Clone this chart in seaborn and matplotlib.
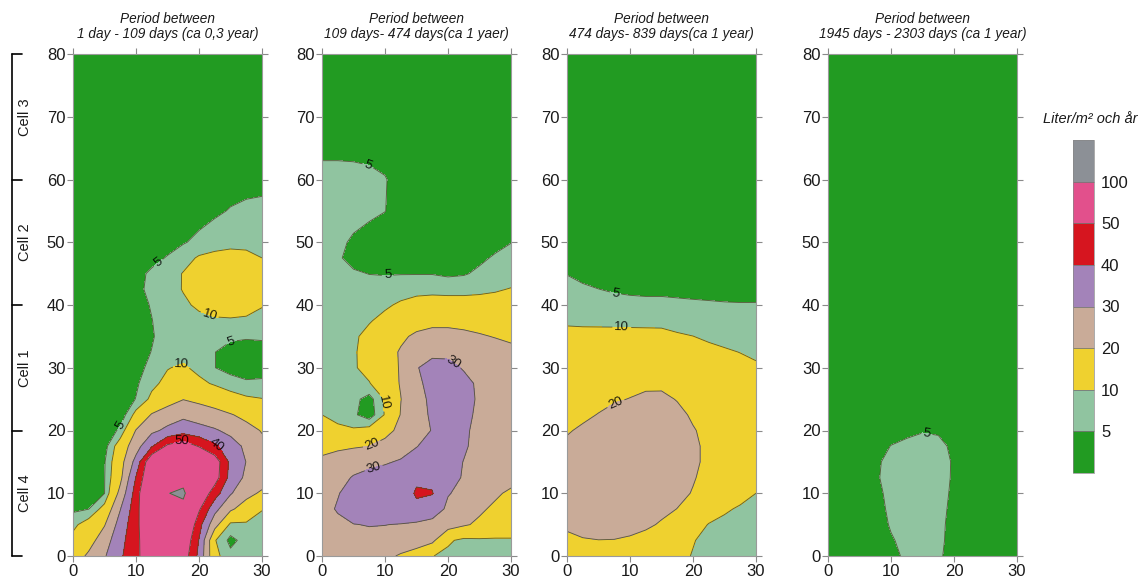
import numpy as np
import seaborn as sns
import matplotlib.pyplot as plt
from matplotlib.colors import ListedColormap, BoundaryNorm
from matplotlib.cm import ScalarMappable
from matplotlib.lines import Line2D
from matplotlib import transforms

# 1. data (Liter/m2 och år)
levels = [0, 5, 10, 20, 30, 40, 50, 100, 200]
tick_levels = [5, 10, 20, 30, 40, 50, 100]
band_colors = ["#229b22", "#90c4a0", "#efd12f", "#c9ab98",
               "#a383b9", "#d6151f", "#e2508c", "#8c9096"]

periods = ["1 day - 109 days (ca 0,3 year)",
           "109 days- 474 days(ca 1 yaer)",
           "474 days- 839 days(ca 1 year)",
           "1945 days - 2303 days (ca 1 year)"]

cell_names = ["Cell 4", "Cell 1", "Cell 2", "Cell 3"]
cell_bounds = [0, 20, 40, 60, 80]

x_cols = [0, 2.5, 5, 7.5, 10, 12.5, 15, 17.5, 20, 22.5, 25, 27.5, 30]

p1_rows = [0, 2.5, 5, 7.5, 10, 12.5, 15, 17.5, 20, 22.5, 25, 27.5, 30, 32.5,
           35, 37.5, 40, 42.5, 45, 47.5, 50, 55, 60, 70, 80]
p1_values = [
    [14.5, 21.8, 29.1, 38.5, 47.2, 58.6, 68.7, 56.1, 37.5, 11.8, 6.5, 7.5, 8],
    [12, 16, 25.4, 36.8, 46.9, 60.2, 75, 59.6, 39.5, 10.5, 3.5, 7, 7.8],
    [8.5, 13.2, 19.4, 34.1, 46.6, 63.7, 83.8, 66.1, 43.5, 23.6, 8.5, 9, 8.5],
    [4, 4.9, 12.5, 29.6, 45.9, 66.3, 90.2, 90, 51.5, 33.1, 21.6, 15.4, 10.2],
    [2, 3, 4.9, 22.9, 44.4, 68.4, 99, 106, 60, 44.5, 30.9, 23, 18.5],
    [2, 3, 4.8, 17.6, 40.5, 62.6, 80, 88, 70, 55, 36.5, 28, 25],
    [2, 3, 4.6, 16.1, 33.3, 60, 72, 74, 68, 56, 37.6, 29.8, 25],
    [2, 3, 3, 13.8, 25.9, 39, 52, 57, 49.2, 41.7, 34.4, 28, 22],
    [1.5, 1.5, 1, 6.2, 20.4, 27.9, 32.2, 35.6, 33.6, 31.1, 27.4, 22.9, 19.5],
    [1.5, 1.5, 1.5, 1.5, 12.1, 20.7, 24.9, 27.8, 25.2, 22.9, 20.6, 17.7, 14.6],
    [1.5, 1.5, 1.5, 1.5, 5.2, 11.5, 15.7, 19.7, 17.8, 15.9, 12.5, 11, 10.2],
    [1.5, 1.5, 1.5, 1.5, 4.2, 8.5, 11.8, 14, 11.6, 9.2, 7.5, 5.8, 6],
    [1.5, 1.5, 1.5, 1.5, 3.5, 6.25, 9.7, 11, 8.2, 5.1, 3, 2.5, 2.8],
    [1.5, 1.5, 1.5, 1.5, 3.5, 5.1, 7, 7.5, 6.5, 5.1, 3, 2.5, 2.8],
    [1.5, 1.5, 1.5, 1.5, 3.2, 4.7, 6.5, 7.5, 7.5, 7, 6, 5.6, 5.8],
    [1.5, 1.5, 1.5, 1.5, 3.2, 4.9, 6.8, 7.8, 8.5, 9.2, 9.4, 9.2, 9],
    [1.5, 1.5, 1.5, 1.5, 3.5, 5.3, 7, 9, 11, 12.5, 12.8, 12, 10.2],
    [1.5, 1.5, 1.5, 1.5, 4, 6, 7.8, 10.3, 12.5, 14, 14.5, 14, 12.5],
    [1.5, 1.5, 1.5, 1.5, 3.8, 5.7, 7.5, 10.3, 12.5, 14, 14.5, 14, 12.5],
    [1.5, 1.5, 1.5, 1.5, 2.5, 3.8, 5.3, 7.8, 10.7, 11.8, 12, 11.5, 10],
    [1.5, 1.5, 1.5, 1.5, 1.5, 2.5, 3.5, 4.6, 6.2, 7.5, 8.5, 8.5, 8],
    [1.5, 1.5, 1.5, 1.5, 1.5, 2, 2.5, 2.8, 3, 4.2, 5.3, 6, 6.3],
    [1.5, 1.5, 1.5, 1.5, 1.5, 1.5, 1.5, 1.5, 1.5, 2.5, 3, 3.3, 3.5],
    [1.5] * 13,
    [1.5] * 13,
]

p2_rows = [0, 2.5, 5, 7.5, 10, 12.5, 15, 17.5, 20, 22.5, 25, 27.5, 30, 32.5,
           35, 37.5, 40, 42.5, 45, 47.5, 50, 55, 60, 65, 70, 80]
p2_values = [
    [24, 26, 27, 27, 23, 18.6, 14.4, 10.2, 8.5, 8, 7.8, 7.8, 8],
    [24.5, 27, 28, 28, 28, 27.5, 26, 22, 11, 8.5, 9, 9.2, 9.6],
    [25, 28, 29.8, 30.3, 30.1, 29.7, 28.5, 27, 24, 21, 18.5, 15, 12.5],
    [27, 30.8, 34, 35, 35, 35.5, 38, 35, 28.3, 24.8, 21.3, 18.5, 16],
    [26, 29.5, 33.5, 35, 35, 35, 41, 40.5, 30.5, 27.8, 24.5, 21.3, 18.5],
    [23, 26.5, 30.8, 33, 34.5, 35.5, 38.5, 38, 33, 29.3, 27, 25, 23],
    [21, 23.5, 25.5, 27.5, 29, 31, 33.5, 34.5, 33, 29.8, 27, 25, 23.5],
    [18.5, 18.5, 19.2, 20, 22.5, 25.5, 29.7, 33, 34, 31, 27.5, 25.5, 24],
    [12.5, 11.5, 10.8, 12.5, 17.5, 22, 25.5, 30.5, 33, 31.5, 27.5, 25.5, 24.5],
    [10, 8, 6, 2, 10.5, 20.4, 26, 31.5, 34, 32, 28.5, 26, 25],
    [7.5, 7.5, 6.5, 3, 10.6, 19.8, 26.7, 32, 34, 32.5, 29, 26.5, 25],
    [7.5, 7.5, 8, 9.6, 15, 20.6, 28, 33, 34.5, 32.5, 28.5, 26.5, 25],
    [7.5, 8, 9.2, 12.5, 16.5, 20.6, 29.5, 33, 32.5, 29.3, 27, 25.5, 24.5],
    [7.5, 8, 9.3, 12.5, 16.5, 20.8, 25, 28, 28, 26.5, 25, 23.5, 22],
    [7.5, 8, 9.2, 11.5, 15, 18.5, 21.5, 22.5, 22.5, 21.8, 20.8, 19.6, 18.5],
    [7.5, 7.8, 8.5, 9.6, 11.5, 14, 16.5, 18, 18, 17.5, 16.5, 15.5, 14.5],
    [7, 7.2, 7.5, 8.2, 9.2, 10.8, 12.2, 13, 13, 13, 12.8, 12.6, 12.3],
    [6.5, 6.5, 6.5, 6.8, 7.2, 7.8, 8.3, 8.3, 8, 8, 8.6, 9.4, 10.3],
    [6.5, 6.5, 5.6, 4.9, 4.7, 4.8, 4.8, 4.8, 4.2, 4.6, 5.8, 6.6, 7.3],
    [6.5, 5.6, 3.5, 2.5, 2, 2, 2, 2, 2, 2, 4.2, 5.5, 6.5],
    [7, 6.2, 4.2, 2.5, 2, 2, 2, 2, 2, 2, 2.5, 3.8, 4.9],
    [7.5, 7.5, 7, 6.3, 5.1, 3, 2, 2, 2, 2, 2, 2, 2.5],
    [6.5, 6.5, 6.3, 6, 5.3, 3, 2, 2, 2, 2, 2, 2, 2],
    [4, 4, 4, 3.8, 3, 2.5, 2, 2, 2, 2, 2, 2, 2],
    [2] * 13,
    [2] * 13,
]

p3_rows = [0, 2.5, 5, 7.5, 10, 12.5, 15, 17.5, 20, 22.5, 25, 27.5, 30, 32.5,
           35, 37.5, 40, 42.5, 45, 50, 60, 70, 80]
p3_values = [
    [16, 16, 16, 16, 15.5, 14.5, 13, 11.5, 9.7, 8.8, 8.5, 8.3, 8],
    [18, 19.5, 19.9, 19.8, 19, 17.5, 15.5, 13.5, 10.3, 8.5, 8.8, 8.5, 8.3],
    [21.5, 22.5, 23, 23, 22.5, 21.3, 19.2, 16, 13, 9.7, 8.6, 8.5, 8.5],
    [23.5, 24.5, 25, 25, 24.5, 23.5, 21.8, 19.9, 16.5, 13.5, 10.8, 9.3, 9],
    [24.5, 25.5, 26, 26, 25.5, 24.7, 23.5, 21.8, 19.6, 17, 14.5, 12, 10],
    [25, 26, 26.5, 26.5, 26, 25.3, 24.2, 22.7, 20.5, 18, 16, 14, 12],
    [24.8, 25.8, 26.5, 26.5, 26.2, 25.5, 24.5, 23, 21, 18.8, 17, 15.5, 14],
    [21.5, 23, 24.5, 25.2, 25.5, 25.2, 24.5, 23, 21, 18.8, 17.2, 16, 15],
    [19.3, 21.2, 23, 24, 24.5, 24.5, 23.8, 22.3, 20.4, 18.5, 17, 16, 15],
    [17, 18.5, 20.3, 22, 23, 23.5, 23, 21.5, 19.2, 17.5, 16.3, 15.5, 14.8],
    [15.5, 16.5, 17.8, 19.3, 20.2, 21.2, 21.3, 19.7, 18, 16.5, 15.5, 14.5, 14],
    [14, 14.8, 15.8, 17, 18, 18.8, 18.8, 17.8, 16.5, 15.2, 14, 13, 12.3],
    [13, 13.5, 14, 14.8, 15.5, 16, 16, 15.5, 14.5, 13.5, 12.5, 11.5, 10.8],
    [12, 12.2, 12.5, 12.8, 13.2, 13.5, 13.5, 13, 12.2, 11.3, 10.6, 9.9, 9],
    [11, 11.1, 11.2, 11.3, 11.3, 11.2, 11, 10.5, 10.05, 9.2, 8.5, 8, 7.8],
    [9.5, 9.3, 9.2, 9.1, 9, 9, 9.1, 8.5, 7.8, 7.4, 7, 6.8, 6.7],
    [7.8, 7.5, 7, 6.6, 6.3, 6.2, 6.2, 6, 5.8, 5.6, 5.4, 5.3, 5.3],
    [6, 5.6, 5.05, 4.5, 4.2, 4, 4, 3.8, 3.6, 3.5, 3.4, 3.4, 3.5],
    [4.9, 4, 3.2, 3, 2.8, 2.7, 2.6, 2.5, 2.5, 2.5, 2.5, 2.5, 2.5],
    [2] * 13,
    [2] * 13,
    [2] * 13,
    [2] * 13,
]

p4_rows = [0, 2.5, 5, 7.5, 10, 12.5, 15, 17.5, 20, 25, 30, 40, 50, 60, 70, 80]
p4_values = [
    [2, 2, 2, 2, 3.5, 6, 6.8, 5.8, 3, 2, 2, 2, 2],
    [2, 2, 2, 2.5, 4.6, 6.2, 7, 6.2, 3.2, 2, 2, 2, 2],
    [2, 2, 2, 3, 5.4, 6.5, 7, 6.3, 3.4, 2, 2, 2, 2],
    [2, 2, 2, 3.5, 5.8, 6.6, 7, 6.5, 3.8, 2, 2, 2, 2],
    [2, 2, 2, 4, 6, 6.7, 7, 6.6, 4.2, 2, 2, 2, 2],
    [2, 2, 2.5, 4.6, 6, 6.6, 6.9, 6.6, 4.5, 2, 2, 2, 2],
    [2, 2, 2.5, 4.5, 5.8, 6.4, 6.7, 6.5, 4.6, 2, 2, 2, 2],
    [2, 2, 2, 3.5, 5.1, 5.7, 6.1, 5.9, 4.3, 2, 2, 2, 2],
    [2, 2, 2, 2.5, 3.5, 4.3, 4.8, 4.6, 3.5, 2.5, 2, 2, 2],
    [2, 2, 2, 2, 2.5, 3, 3.2, 3, 2.5, 2, 2, 2, 2],
    [2] * 13,
    [2] * 13,
    [2] * 13,
    [2] * 13,
    [2] * 13,
    [2] * 13,
]

# where the contour numbers sit
p1_labels = [(13.7, 46.5), (21.6, 38.2), (25.1, 34.3), (17.2, 30.8),
             (7.2, 21.0), (17.4, 17.8), (22.8, 17.8)]
p2_labels = [(7.4, 62.7), (10.4, 44.8), (9.9, 24.5), (8.0, 17.6),
             (8.3, 13.6), (21.0, 31.1)]
p3_labels = [(7.7, 41.6), (8.7, 36.6), (7.7, 24.4)]
p4_labels = [(15.7, 19.6)]

# 2. plot
sns.set_theme(style="ticks")
plt.rcParams["font.family"] = ["Liberation Sans", "DejaVu Sans"]

W, H = 1144, 578
fig = plt.figure(figsize=(W / 100, H / 100), dpi=100)
fig.patch.set_facecolor("white")

panels = [(p1_rows, p1_values, p1_labels), (p2_rows, p2_values, p2_labels),
          (p3_rows, p3_values, p3_labels), (p4_rows, p4_values, p4_labels)]
lefts = [73, 322, 567, 828]
palette = sns.color_palette(band_colors)
cmap = ListedColormap(palette)

axes = []
for i, (rows, vals, lab_pos) in enumerate(panels):
    ax = fig.add_axes([lefts[i] / W, 22 / H, 189 / W, 502 / H])
    z = np.array(vals, dtype=float)
    ax.contourf(x_cols, rows, z, levels=levels, colors=palette)
    cs = ax.contour(x_cols, rows, z, levels=tick_levels, colors="#4d4d2a",
                    linewidths=0.65, alpha=0.85)
    ax.clabel(cs, manual=lab_pos, fmt="%g", fontsize=9.5, colors="black",
              inline=True, inline_spacing=2)
    ax.set_xlim(0, 30)
    ax.set_ylim(0, 80)
    ax.set_xticks([0, 10, 20, 30])
    ax.set_yticks(range(0, 81, 10))
    ax.tick_params(direction="out", length=4, width=0.8, color="#8a8a8a",
                   labelsize=12, labelcolor="#1a1a1a", pad=1.5,
                   top=True, right=True)
    for s in ax.spines.values():
        s.set_color("#9a9a9a")
        s.set_linewidth(0.8)
    ax.set_title("Period between\n" + periods[i], fontsize=9.8,
                 style="italic", pad=11.5, linespacing=1.05, color="#1a1a1a")
    axes.append(ax)

# cell bracket on the left
trans = transforms.blended_transform_factory(fig.transFigure, axes[0].transData)
fig.add_artist(Line2D([12 / W, 12 / W], [0, 80], transform=trans,
                      color="black", lw=1.2))
for yb in cell_bounds:
    fig.add_artist(Line2D([12 / W, 22 / W], [yb, yb], transform=trans,
                          color="black", lw=1.2))
for k, name in enumerate(cell_names):
    yc = (cell_bounds[k] + cell_bounds[k + 1]) / 2
    fig.text(25 / W, yc, name, transform=trans, rotation=90,
             ha="center", va="center", fontsize=10.5, color="#1a1a1a")

# legend bar
cax = fig.add_axes([1073 / W, 105 / H, 21 / W, 333 / H])
sm = ScalarMappable(norm=BoundaryNorm(levels, len(band_colors)), cmap=cmap)
cb = fig.colorbar(sm, cax=cax, spacing="uniform", ticks=tick_levels,
                  drawedges=True)
cb.ax.minorticks_off()
cb.outline.set_linewidth(0.5)
cb.outline.set_edgecolor("#888888")
cb.dividers.set_color("#777777")
cb.dividers.set_linewidth(0.6)
cb.ax.tick_params(which="both", length=0, labelsize=12, pad=5,
                  labelcolor="#1a1a1a")
fig.text(1043 / W, 1 - 119 / H, "Liter/m\u00b2 och \u00e5r", style="italic",
         fontsize=10.5, ha="left", va="center", color="#1a1a1a")

fig.savefig("out.png", dpi=100)
